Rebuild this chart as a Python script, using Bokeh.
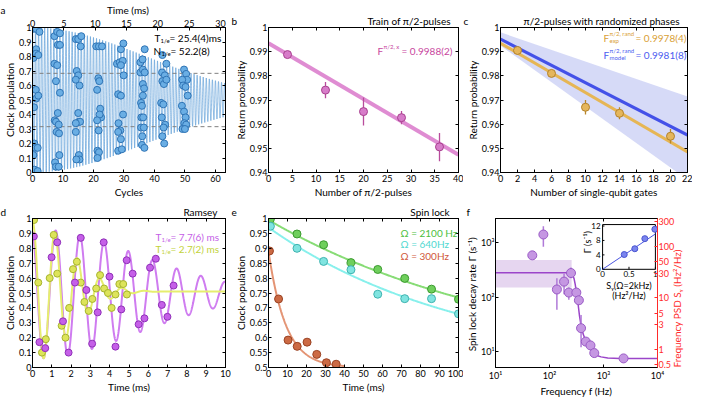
import numpy as np
from bokeh.plotting import figure
from bokeh.models import Range1d, LinearAxis, FixedTicker, CustomJSTickFormatter, Label
from bokeh.layouts import row, column
from bokeh.embed import file_html
from bokeh.resources import INLINE
from bokeh.core.properties import value

FONT = "Lato"
NB = "\u00a0"

# ---------------- panel a : Rabi cycles ----------------
A_CYC_MAX = 63.3
N_1E = 52.2
T_1E = 25.4
a_cycles = [0.0, 1.2, 2.3, 0.3, 1.2, 1.2, 1.9, 0.5, 1.1, 1.2, 1.9, 0.6, 1.0, 1.7, 0.3, 0.6, 1.7,
            7.2, 8.1, 9.0, 8.3, 9.0, 7.2, 8.1, 7.7, 9.0, 8.3, 7.3, 7.7, 8.6, 7.9, 8.7, 7.4, 7.7, 8.6, 8.8,
            14.2, 15.0, 16.0, 15.8, 14.5, 15.0, 15.4, 14.2, 15.0, 15.2, 15.6, 14.2, 14.2, 15.2, 15.4, 14.4,
            20.9, 21.8, 22.8, 21.2, 21.6, 21.9, 22.2, 22.5, 22.0, 21.2, 21.7, 21.3, 21.8, 21.3,
            29.0, 29.8, 27.7, 28.6, 29.6, 29.0, 29.9, 28.1, 29.0, 29.7, 28.2, 28.8, 28.1, 29.0, 28.1, 29.3,
            36.8, 35.4, 36.1, 35.4, 36.2, 36.8, 36.2, 36.6, 36.2, 35.6, 35.9, 35.7, 36.3, 35.6, 36.5, 36.0, 35.9, 36.7,
            42.6, 43.9, 42.5, 43.4, 42.6, 43.1, 43.9, 42.2, 42.9, 42.4, 43.5, 43.0, 42.6, 43.2,
            49.7, 50.4, 50.7, 49.1, 49.4, 50.2, 50.9, 49.0, 49.7, 50.2, 49.8, 50.4, 49.2, 50.0]
a_pop = [0.99, 0.99, 0.97, 0.79, 0.85, 0.82, 0.81, 0.45, 0.57, 0.51, 0.53, 0.20, 0.17, 0.17, 0.12, 0.02, 0.01,
         0.94, 0.97, 0.96, 0.88, 0.88, 0.75, 0.74, 0.63, 0.55, 0.41, 0.36, 0.35, 0.33, 0.28, 0.27, 0.07, 0.04, 0.04, 0.12,
         0.92, 0.92, 0.94, 0.87, 0.70, 0.67, 0.60, 0.64, 0.41, 0.35, 0.35, 0.34, 0.28, 0.12, 0.09, 0.09,
         0.87, 0.87, 0.87, 0.57, 0.65, 0.63, 0.44, 0.38, 0.40, 0.36, 0.29, 0.15, 0.14, 0.10,
         0.85, 0.89, 0.75, 0.76, 0.77, 0.74, 0.67, 0.54, 0.53, 0.40, 0.34, 0.29, 0.28, 0.23, 0.15, 0.16,
         0.85, 0.76, 0.78, 0.69, 0.71, 0.69, 0.61, 0.58, 0.53, 0.48, 0.46, 0.38, 0.38, 0.31, 0.31, 0.25, 0.19, 0.17,
         0.81, 0.75, 0.69, 0.67, 0.63, 0.61, 0.64, 0.48, 0.47, 0.38, 0.33, 0.31, 0.25, 0.20,
         0.71, 0.68, 0.64, 0.64, 0.60, 0.59, 0.53, 0.46, 0.42, 0.38, 0.34, 0.33, 0.30, 0.30]
a_xticks = [0, 10, 20, 30, 40, 50, 60]
a_tticks = [0, 5, 10, 15, 20, 25, 30]
a_yticks = [0, 0.1, 0.2, 0.3, 0.4, 0.5, 0.6, 0.7, 0.8, 0.9, 1]

# ---------------- panel b : train of pi/2 pulses ----------------
b_n = [4, 12, 20, 28, 36]
b_p = [0.9888, 0.9741, 0.9652, 0.9627, 0.9506]
b_lo = [0.9884, 0.9707, 0.9595, 0.9600, 0.9447]
b_hi = [0.9892, 0.9775, 0.9710, 0.9655, 0.9563]
b_fit_x = [0, 40]
b_fit_y = [0.9935, 0.9473]
b_xticks = [0, 5, 10, 15, 20, 25, 30, 35, 40]
b_yticks = [0.94, 0.95, 0.96, 0.97, 0.98, 0.99, 1]

# ---------------- panel c : randomized phases ----------------
c_n = [2, 6, 10, 14, 20]
c_p = [0.9905, 0.9810, 0.9670, 0.9645, 0.9550]
c_lo = [0.9895, 0.9795, 0.9640, 0.9620, 0.9520]
c_hi = [0.9915, 0.9825, 0.9700, 0.9670, 0.9580]
c_fit_x = [0, 22]
c_exp_y = [0.9935, 0.9485]
c_model_y = [0.9952, 0.9555]
c_band_hi = [0.9980, 0.9715]
c_band_lo = [0.9925, 0.9370]
c_xticks = [0, 2, 4, 6, 8, 10, 12, 14, 16, 18, 20, 22]
c_yticks = [0.94, 0.95, 0.96, 0.97, 0.98, 0.99, 1]

# ---------------- panel d : Ramsey ----------------
d_t1 = [0.07, 0.36, 0.66, 0.99, 1.28, 1.58, 1.87, 2.20, 2.50, 2.79, 3.09, 3.38, 3.69, 3.99,
        4.30, 4.60, 4.88, 5.19, 5.50, 5.80, 6.09, 6.39, 6.70, 6.99, 7.31]
d_p1 = [0.88, 0.17, 0.13, 0.74, 0.84, 0.31, 0.10, 0.57, 0.87, 0.52, 0.16, 0.37, 0.84, 0.61,
        0.14, 0.39, 0.72, 0.63, 0.29, 0.33, 0.67, 0.73, 0.42, 0.34, 0.55]
d_t2 = [0.08, 0.30, 0.49, 0.69, 0.89, 1.10, 1.28, 1.51, 1.71, 1.90, 2.10, 2.30, 2.50, 2.69,
        2.91, 3.10, 3.30, 3.50, 3.71, 3.91, 4.10, 4.30, 4.50, 4.70, 4.89]
d_p2 = [0.99, 0.57, 0.10, 0.19, 0.60, 0.89, 0.63, 0.28, 0.20, 0.40, 0.66, 0.71, 0.57, 0.44,
        0.38, 0.46, 0.53, 0.62, 0.53, 0.50, 0.40, 0.49, 0.56, 0.56, 0.49]
D1_T, D1_A, D1_C, D1_P, D1_T0 = 7.7, 0.435, 0.495, 1.255, -0.055
D2_T, D2_A, D2_C, D2_P, D2_T0 = 2.7, 0.47, 0.51, 1.165, 0.0
d_xticks = [0, 1, 2, 3, 4, 5, 6, 7, 8, 9, 10]
d_yticks = [0, 0.1, 0.2, 0.3, 0.4, 0.5, 0.6, 0.7, 0.8, 0.9, 1]

# ---------------- panel e : spin lock ----------------
e_t = [1, 15, 29, 43.4, 57.5, 71.7, 85.8, 100]
e_green = [0.998, 0.948, 0.912, 0.852, 0.829, 0.799, 0.763, 0.729]
e_cyan = [0.974, 0.900, 0.856, 0.828, 0.746, 0.731, 0.731, 0.680]
e_t3 = [0.5, 5.3, 10.3, 15.1, 20.3, 25.4, 30.5, 35.6]
e_red = [0.891, 0.730, 0.592, 0.571, 0.585, 0.544, 0.516, 0.511]
E_ERR = 0.009
E_G = (0.5, 0.495, 134.0)
E_C = (0.5, 0.470, 104.0)
E_R = (0.5, 0.390, 9.1)
E_R_TMAX = 40
e_xticks = [0, 10, 20, 30, 40, 50, 60, 70, 80, 90, 100]
e_yticks = [0.5, 0.55, 0.6, 0.65, 0.7, 0.75, 0.8, 0.85, 0.9, 0.95, 1]

# ---------------- panel f : spin-lock decay rate spectrum ----------------
f_xlim = (10, 10000)
f_ylim = (5.1, 2810)
psd_lim = (0.44, 343)
f_freq = [48, 77, 137, 186, 228, 250, 314, 350, 384, 470, 574, 675, 2350]
f_gamma = [590, 1426, 139, 194, 122, 279, 122, 88, 27, 15.3, 13, 9.4, 7.5]
f_lo = [590, 850, 59, 113, 90, 223, 93, 74, 12, 14, 12.3, 9.0, 7.3]
f_hi = [590, 2020, 223, 271, 151, 352, 151, 117, 47, 17, 13.7, 9.8, 7.7]
f_fit_x = [10, 245, 265, 285, 300, 320, 340, 360, 384, 420, 460, 500, 560, 650, 750, 900, 1200, 2000, 10000]
f_fit_y = [282, 282, 265, 220, 170, 110, 72, 45, 30, 21, 16.5, 14, 11.5, 9.5, 8.5, 8, 7.6, 7.5, 7.5]
f_band_x = (10, 257)
f_band_y = (151, 485)
f_xticks = [10, 100, 1000, 10000]
f_yticks = [10, 100, 1000]
psd_ticks = [0.5, 1, 3, 5, 10, 30, 50, 100, 300]
ins_s = [0.41, 0.61, 0.80, 0.99]
ins_g = [4.1, 5.7, 8.5, 11.1]
ins_fit_s = [0, 1]
ins_fit_g = [0, 9.8]
ins_xticks = [0, 0.5, 1]
ins_yticks = [0, 4, 8, 12]
ins_xlim = (0, 1)
ins_ylim = (0, 12.4)


def plain_fmt():
    return CustomJSTickFormatter(code="return String(Math.round(tick*1000)/1000);")


def pow_fmt():
    return CustomJSTickFormatter(code="""
        const s = {"1": "\u00b9", "2": "\u00b2", "3": "\u00b3", "4": "\u2074"};
        return "10" + s[String(Math.round(tick))];""")


def style_axis(ax, ticks, color="black", fmt=None, standoff=2, label_standoff=1):
    ax.ticker = FixedTicker(ticks=[float(t) for t in ticks])
    ax.formatter = fmt if fmt is not None else plain_fmt()
    ax.major_tick_in = 3
    ax.major_tick_out = 0
    ax.minor_tick_line_color = None
    ax.axis_line_color = color
    ax.major_tick_line_color = color
    ax.major_label_text_color = color
    ax.axis_label_text_color = color
    ax.major_label_text_font = FONT
    ax.major_label_text_font_size = "9px"
    ax.axis_label_text_font = FONT
    ax.axis_label_text_font_size = "10px"
    ax.axis_label_text_font_style = "normal"
    ax.major_label_standoff = standoff
    ax.axis_label_standoff = label_standoff


def mirror(p, ticks, side):
    ax = LinearAxis(ticker=FixedTicker(ticks=[float(t) for t in ticks]),
                    formatter=CustomJSTickFormatter(code="return '';"))
    ax.major_tick_in = 3
    ax.major_tick_out = 0
    ax.minor_tick_line_color = None
    ax.major_label_text_color = None
    ax.major_label_standoff = 0
    p.add_layout(ax, side)


def header(p, ticks, labels):
    """Axis above the frame that only carries text: panel letter and panel title."""
    ax = LinearAxis(ticker=FixedTicker(ticks=[float(t) for t in ticks]),
                    formatter=CustomJSTickFormatter(args=dict(labs=list(labels)),
                                                    code="return labs[index];"))
    ax.axis_line_color = None
    ax.major_tick_line_color = None
    ax.major_tick_in = 0
    ax.major_tick_out = 0
    ax.minor_tick_line_color = None
    ax.major_label_standoff = 1
    ax.major_label_text_font = FONT
    ax.major_label_text_font_size = "10px"
    ax.major_label_text_color = "black"
    p.add_layout(ax, "above")


def letter(ch, pad):
    return ch + NB * pad


def make_fig(xr, yr, w, h, bl, bt, br, bb, xt, yt, xl, yl):
    p = figure(x_range=Range1d(xr[0], xr[1]), y_range=Range1d(yr[0], yr[1]),
               width=w, height=h,
               min_border_left=bl, min_border_top=bt, min_border_right=br, min_border_bottom=bb,
               toolbar_location=None, output_backend="svg")
    p.grid.visible = False
    p.outline_line_color = "black"
    p.outline_line_width = 1
    p.xaxis[0].axis_label = xl
    p.yaxis[0].axis_label = yl
    style_axis(p.xaxis[0], xt)
    style_axis(p.yaxis[0], yt, standoff=1, label_standoff=0)
    return p


def lab(p, x, y, text, dx=0, dy=0, size="10px", color="black", align="left",
        baseline="middle", style="normal"):
    p.add_layout(Label(x=x, y=y, x_offset=dx, y_offset=dy, text=text, text_font=FONT,
                       text_font_size=size, text_color=color, text_align=align,
                       text_baseline=baseline, text_font_style=style))


# ================= panel a =================
pa = make_fig((0, A_CYC_MAX), (0, 1), 231, 202, 20, 22, 6, 30, a_xticks, a_yticks,
              "Cycles", "Clock population")
pa.extra_x_ranges = {"time": Range1d(0, A_CYC_MAX * T_1E / N_1E)}
ta = LinearAxis(x_range_name="time")
style_axis(ta, a_tticks, standoff=1)
pa.add_layout(ta, "above")
header(pa, [0, 31.3], [letter("a", 24), "Time (ms)"])
mirror(pa, a_yticks, "right")
a_n = np.linspace(0, A_CYC_MAX, 6000)
a_curve = 0.5 + 0.5 * np.exp(-(a_n / N_1E) ** 2) * np.cos(2 * np.pi * a_n)
pa.line(a_n, a_curve, line_color="#4a92d4", line_width=0.6)
for lvl in (0.5 + 0.5 / np.e, 0.5 - 0.5 / np.e):
    pa.line([0, A_CYC_MAX], [lvl, lvl], line_color="#808080", line_dash="4 3", line_width=1)
pa.scatter(a_cycles, a_pop, size=7, fill_color="#6aaee4", line_color="#2f74b5", line_width=1)
lab(pa, A_CYC_MAX, 1, "T", -71, -10)
lab(pa, A_CYC_MAX, 1, "1/e", -65, -13, size="6px")
lab(pa, A_CYC_MAX, 1, "= 25.4(4)ms", -56, -10)
lab(pa, A_CYC_MAX, 1, "N", -72, -23)
lab(pa, A_CYC_MAX, 1, "1/e", -64, -26, size="6px")
lab(pa, A_CYC_MAX, 1, "= 52.2(8)", -55, -23)

# ================= panel b =================
pb = make_fig((0, 40), (0.94, 1.0), 232, 202, 30, 22, 5, 30, b_xticks, b_yticks,
              "Number of π/2-pulses", "Return probability")
mirror(pb, b_xticks, "above")
header(pb, [0, 29.6], [letter("b", 30), "Train of π/2-pulses"])
mirror(pb, b_yticks, "right")
pb.line(b_fit_x, b_fit_y, line_color="#dc7fcd", line_width=4, line_alpha=0.9)
pb.segment(b_n, b_lo, b_n, b_hi, line_color="#b94c9c", line_width=1.3)
pb.scatter(b_n, b_p, size=8, fill_color="#d77cc9", line_color="#a8408f", line_width=1)
lab(pb, 40, 1, "F", -81, -23, color="#c8469e")
lab(pb, 40, 1, "π/2, x", -75, -19, size="6px", color="#c8469e")
lab(pb, 40, 1, "= 0.9988(2)", -57, -23, color="#c8469e")

# ================= panel c =================
pc = make_fig((0, 22), (0.94, 1.0), 229, 202, 30, 22, 5, 30, c_xticks, c_yticks,
              "Number of single-qubit gates", "Return probability")
mirror(pc, c_xticks, "above")
header(pc, [0, 11.9], [letter("c", 28), "π/2-pulses with randomized phases"])
mirror(pc, c_yticks, "right")
pc.patch(c_fit_x + c_fit_x[::-1], c_band_hi + c_band_lo[::-1], fill_color="#cfd3f6",
         fill_alpha=0.85, line_color=None)
pc.line(c_fit_x, c_model_y, line_color="#4451e8", line_width=3)
pc.line(c_fit_x, c_exp_y, line_color="#e6b655", line_width=3)
pc.segment(c_n, c_lo, c_n, c_hi, line_color="#b8862a", line_width=1.3)
pc.scatter(c_n, c_p, size=8, fill_color="#e5b65c", line_color="#b3822a", line_width=1)
ORG, BLU = "#d9a035", "#4c5cf0"
lab(pc, 22, 1, "F", -84, -10, color=ORG)
lab(pc, 22, 1, "π/2, rand", -78, -6, size="6px", color=ORG)
lab(pc, 22, 1, "exp", -78, -13, size="6px", color=ORG)
lab(pc, 22, 1, "= 0.9978(4)", -52, -10, color=ORG)
lab(pc, 22, 1, "F", -84, -27, color=BLU)
lab(pc, 22, 1, "π/2, rand", -78, -23, size="6px", color=BLU)
lab(pc, 22, 1, "model", -78, -30, size="6px", color=BLU)
lab(pc, 22, 1, "= 0.9981(8)", -52, -27, color=BLU)

# ================= panel d =================
pd_ = make_fig((0, 10), (0, 1), 231, 197, 20, 15, 6, 26, d_xticks, d_yticks,
               "Time (ms)", "Clock population")
mirror(pd_, d_xticks, "above")
header(pd_, [0, 8.7], [letter("d", 24), "Ramsey"])
mirror(pd_, d_yticks, "right")
d_tt = np.linspace(0, 10, 1500)
d_c1 = D1_C + D1_A * np.exp(-(d_tt / D1_T) ** 2) * np.cos(2 * np.pi * (d_tt - D1_T0) / D1_P)
d_c2 = D2_C + D2_A * np.exp(-(d_tt / D2_T) ** 2) * np.cos(2 * np.pi * (d_tt - D2_T0) / D2_P)
pd_.line(d_tt, d_c1, line_color="#cf7cf0", line_width=2)
pd_.line(d_tt, d_c2, line_color="#e6ee6e", line_width=2)
pd_.scatter(d_t2, d_p2, size=7, fill_color="#dde45a", line_color="#a6b42e", line_width=1)
pd_.scatter(d_t1, d_p1, size=7, fill_color="#c55fe8", line_color="#8f30b8", line_width=1)
PUR, YEL = "#c45ee6", "#c2d23a"
lab(pd_, 10, 1, "T", -70, -18, color=PUR)
lab(pd_, 10, 1, "1/e", -64, -21, size="6px", color=PUR)
lab(pd_, 10, 1, "= 7.7(6) ms", -55, -18, color=PUR)
lab(pd_, 10, 1, "T", -70, -30, color=YEL)
lab(pd_, 10, 1, "1/e", -64, -33, size="6px", color=YEL)
lab(pd_, 10, 1, "= 2.7(2) ms", -55, -30, color=YEL)

# ================= panel e =================
pe = make_fig((0, 100), (0.5, 1.0), 232, 197, 30, 15, 5, 26, e_xticks, e_yticks,
              "Time (ms)", "Clock population")
mirror(pe, e_xticks, "above")
header(pe, [0, 85], [letter("e", 29), "Spin lock"])
mirror(pe, e_yticks, "right")
e_tt = np.linspace(0, 100, 300)
e_tr = np.linspace(0, E_R_TMAX, 200)
pe.line(e_tt, E_G[0] + E_G[1] * np.exp(-e_tt / E_G[2]), line_color="#88dc76", line_width=2)
pe.line(e_tt, E_C[0] + E_C[1] * np.exp(-e_tt / E_C[2]), line_color="#88f0ec", line_width=2)
pe.line(e_tr, E_R[0] + E_R[1] * np.exp(-e_tr / E_R[2]), line_color="#e49474", line_width=2)
for xs, ys, fc, lc in ((e_t, e_green, "#6fcf5c", "#3b9a2f"),
                       (e_t, e_cyan, "#80e4e0", "#3fb3b0"),
                       (e_t3, e_red, "#cc6a44", "#9a4223")):
    lo = [v - E_ERR for v in ys]
    hi = [v + E_ERR for v in ys]
    pe.segment(xs, lo, xs, hi, line_color=lc, line_width=1.2)
    pe.scatter(xs, ys, size=8, fill_color=fc, line_color=lc, line_width=1)
lab(pe, 100, 1, "Ω = 2100 Hz", -58, -14, color="#4cc040")
lab(pe, 100, 1, "Ω = 640Hz", -58, -25, color="#4fd8d0")
lab(pe, 100, 1, "Ω = 300Hz", -58, -37, color="#d0583a")

# ================= panel f =================
lg = np.log10
pf = make_fig((lg(f_xlim[0]), lg(f_xlim[1])), (lg(f_ylim[0]), lg(f_ylim[1])), 229, 197, 30, 15, 26, 26,
              lg(f_xticks), lg(f_yticks), "Frequency f (Hz)", "Spin lock decay rate  Γ (s⁻¹)")
pf.xaxis[0].formatter = pow_fmt()
pf.yaxis[0].formatter = pow_fmt()
mirror(pf, lg(f_xticks), "above")
header(pf, [lg(f_xlim[0])], [letter("f", 26)])
pf.extra_y_ranges = {"psd": Range1d(lg(psd_lim[0]), lg(psd_lim[1]))}
ax_r = LinearAxis(y_range_name="psd", axis_label="Frequency PSD Sᵧ (Hz²/Hz)")
style_axis(ax_r, lg(psd_ticks), color="#ff2a2a", standoff=1, label_standoff=0,
           fmt=CustomJSTickFormatter(code="return String(Math.round(Math.pow(10, tick)*10)/10);"))
if hasattr(ax_r, "axis_label_align"):
    ax_r.axis_label_orientation = float(np.pi / 2)
    ax_r.axis_label_align = "start"
pf.add_layout(ax_r, "right")
pf.quad(left=[lg(f_band_x[0])], right=[lg(f_band_x[1])], bottom=[lg(f_band_y[0])], top=[lg(f_band_y[1])],
        fill_color="#e6d6f0", line_color=None)
pf.line(lg(f_fit_x), lg(f_fit_y), line_color="#9b45c9", line_width=1.5)
pf.segment(lg(f_freq), lg(f_lo), lg(f_freq), lg(f_hi), line_color="#b07ad8", line_width=1.5)
pf.scatter(lg(f_freq), lg(f_gamma), size=9, fill_color="#c597e2", line_color="#9a5bc6", line_width=1)

ins = pf.subplot(x_source=Range1d(ins_xlim[0], ins_xlim[1]), y_source=Range1d(ins_ylim[0], ins_ylim[1]),
                 x_target=Range1d(2.983, 3.961), y_target=Range1d(2.514, 3.337))
ins.quad(left=[ins_xlim[0]], right=[ins_xlim[1]], bottom=[ins_ylim[0]], top=[ins_ylim[1]],
         fill_color="white", line_color="black", line_width=1)
ins.segment(ins_xticks, [0] * 3, ins_xticks, [0.7] * 3, line_color="black", line_width=1)
ins.segment([0] * 4, ins_yticks, [0.035] * 4, ins_yticks, line_color="black", line_width=1)
ins.text(ins_xticks, [0] * 3, text=[str(v) for v in ins_xticks], text_font=value(FONT),
         text_font_size="8px", text_align="center", text_baseline="top", y_offset=2)
ins.text([0] * 4, ins_yticks, text=[str(v) for v in ins_yticks], text_font=value(FONT),
         text_font_size="8px", text_align="right", text_baseline="middle", x_offset=-2)
ins.text([0.5], [0], text=["Sᵧ(Ω=2kHz)"], text_font=value(FONT), text_font_size="9px",
         text_align="center", text_baseline="top", y_offset=11)
ins.text([0.5], [0], text=["(Hz²/Hz)"], text_font=value(FONT), text_font_size="9px",
         text_align="center", text_baseline="top", y_offset=21)
ins.text([0], [7.5], text=["Γ (s⁻¹)"], text_font=value(FONT), text_font_size="9px",
         text_align="center", text_baseline="bottom", angle=np.pi / 2, x_offset=-10)
ins.line(ins_fit_s, ins_fit_g, line_color="#4a55e0", line_width=1)
ins.scatter(ins_s, ins_g, size=6, fill_color="#7a84ee", line_color="#4a55d0", line_width=1)

layout = column(row(pa, pb, pc), row(pd_, pe, pf))
open("out.html", "w").write(file_html(layout, INLINE))
